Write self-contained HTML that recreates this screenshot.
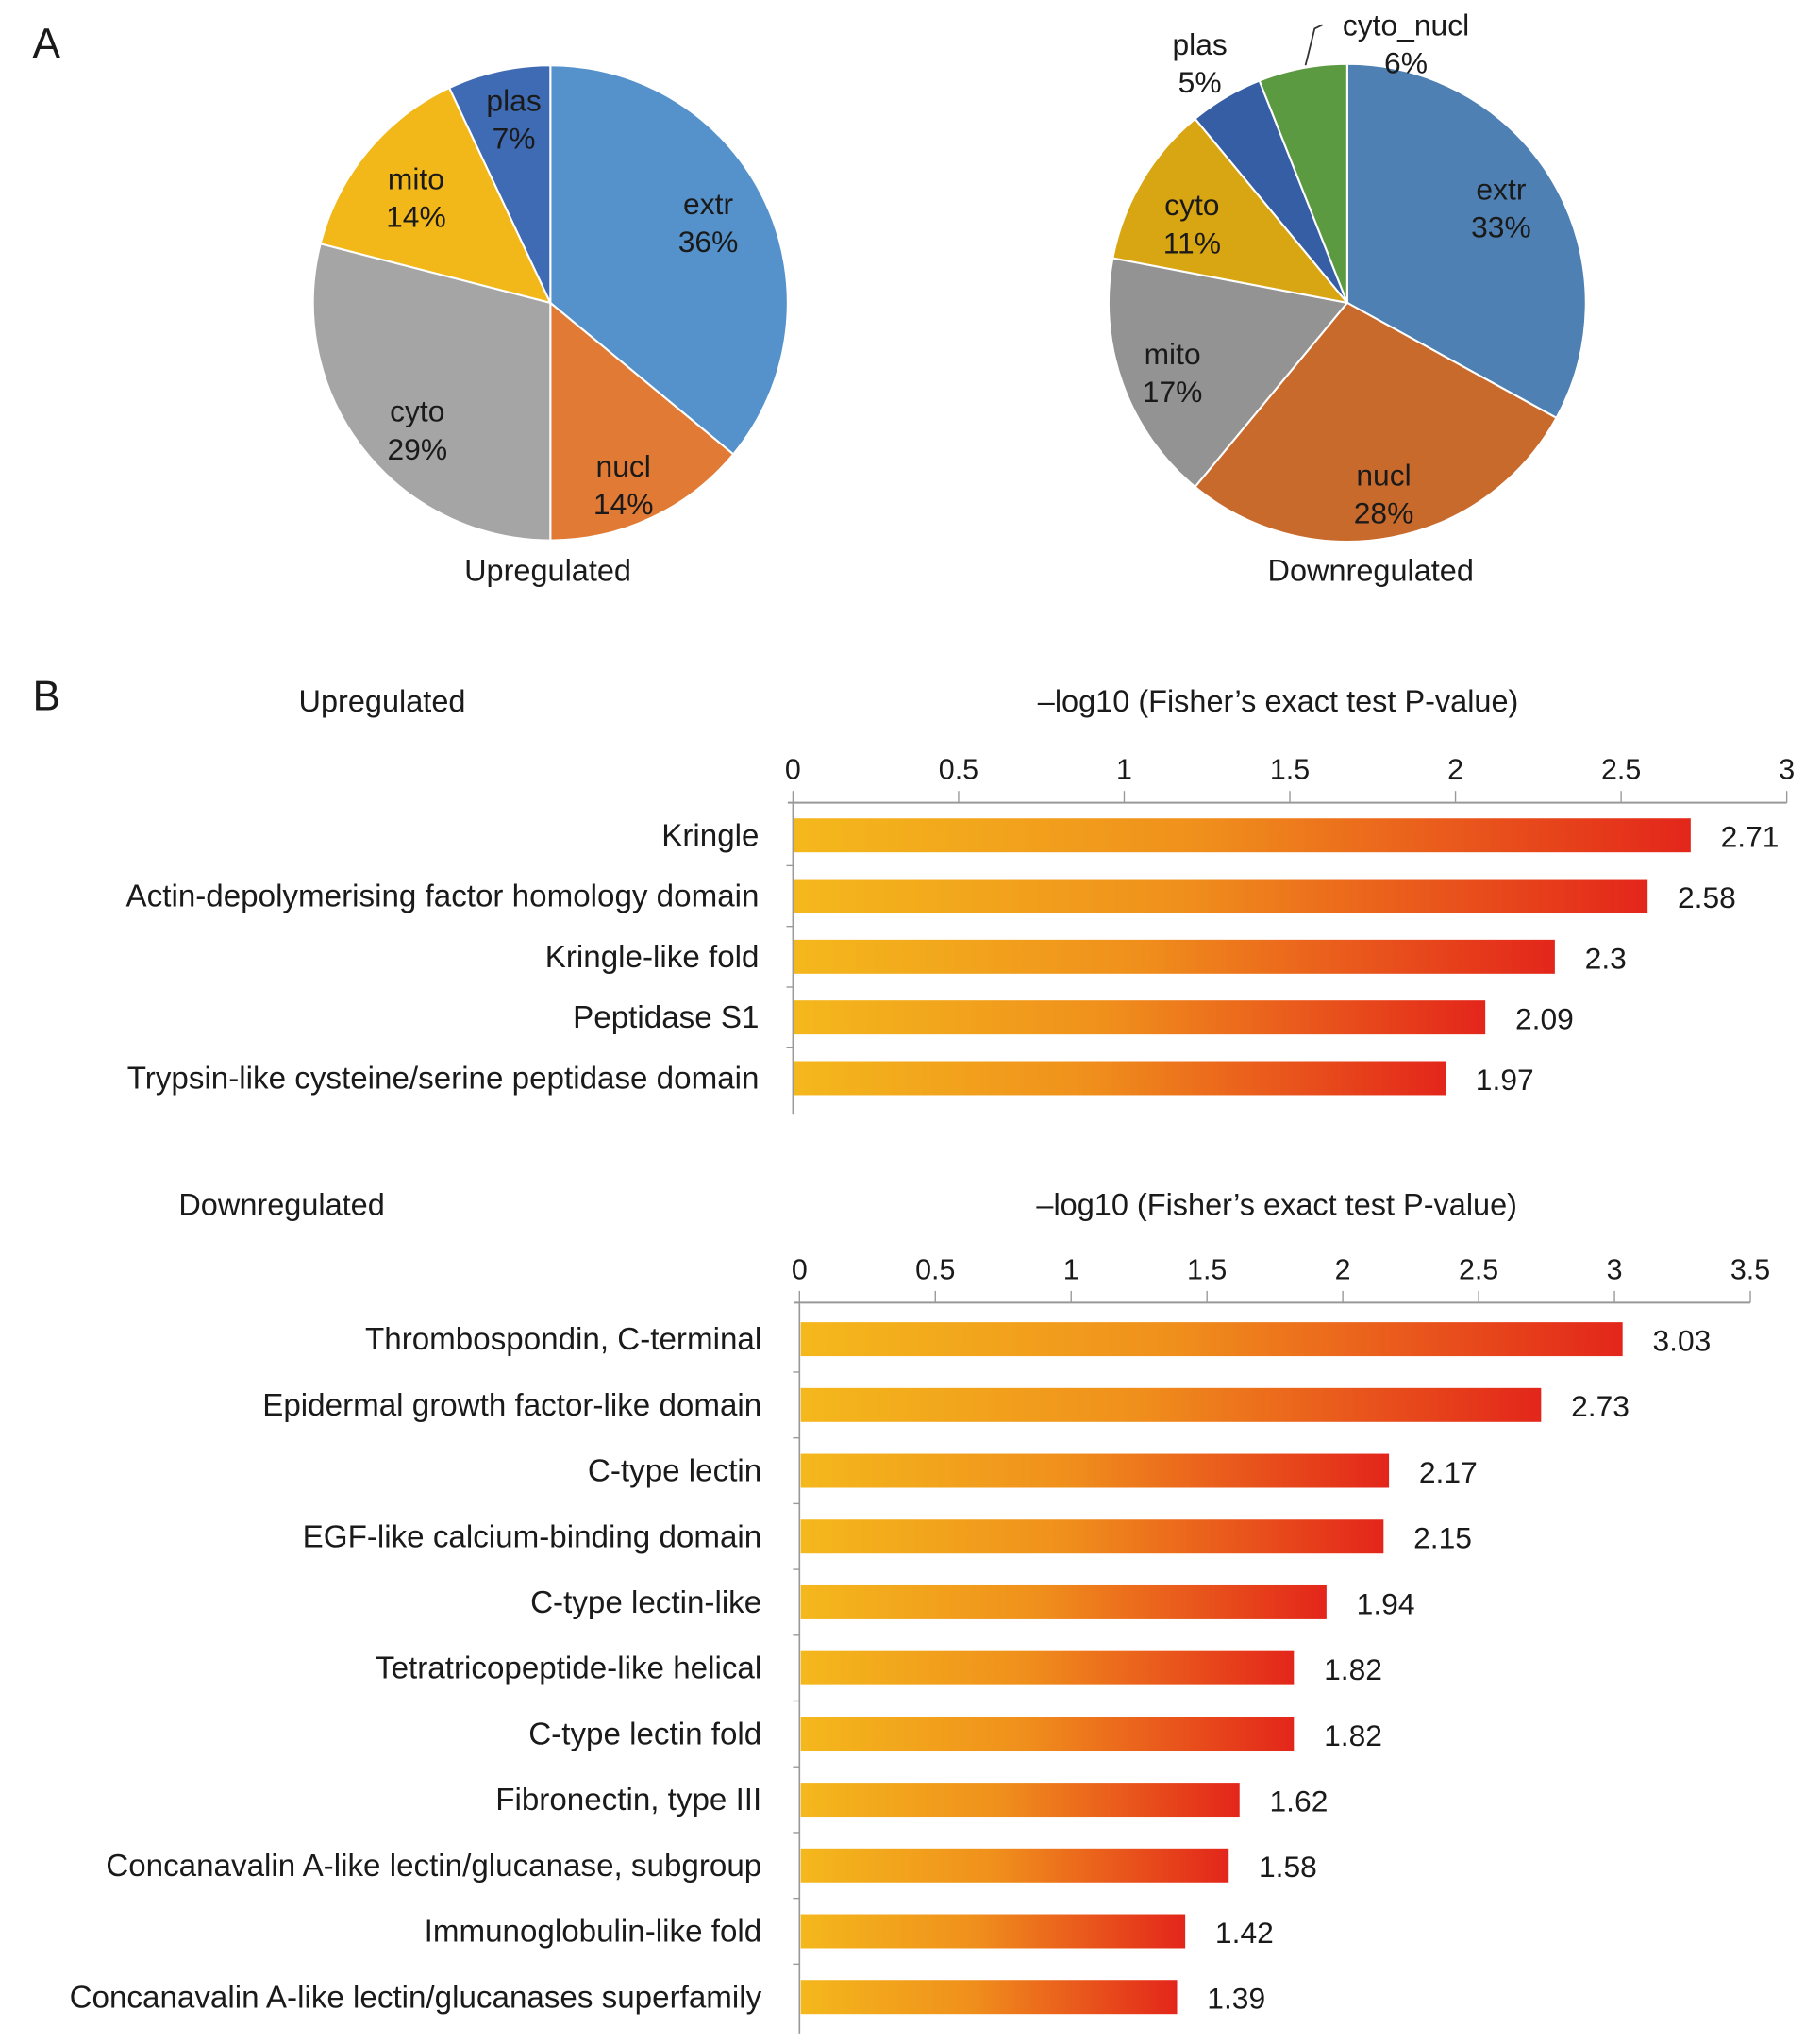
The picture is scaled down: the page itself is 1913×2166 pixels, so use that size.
<!DOCTYPE html>
<html><head><meta charset="utf-8">
<style>
html,body{margin:0;padding:0;background:#fff;}
svg{display:block;font-family:"Liberation Sans",Arial,sans-serif;}
text{fill:#1a1a1a;}
</style></head>
<body>
<svg id="fig" width="1913" height="2166" viewBox="0 0 1384 1566" preserveAspectRatio="none" xmlns="http://www.w3.org/2000/svg">
<defs>
<linearGradient id="barGrad" x1="0" y1="0" x2="1" y2="0">
<stop offset="0" stop-color="#f4b81c"/>
<stop offset="0.45" stop-color="#f0901c"/>
<stop offset="1" stop-color="#e3261b"/>
</linearGradient>
</defs>
<text x="25" y="44" font-size="32">A</text>
<text x="25" y="544" font-size="32">B</text>
<g id="pies"></g>
<g id="bars"></g>
</svg>
<script>
// Pie data
const pie1Cats = ["extr","nucl","cyto","mito","plas"];
const pie1Vals = [36,14,29,14,7];
const pie2Cats = ["extr","nucl","mito","cyto","plas","cyto_nucl"];
const pie2Vals = [33,28,17,11,5,6];
// Bar data
const upCats = ["Kringle","Actin-depolymerising factor homology domain","Kringle-like fold","Peptidase S1","Trypsin-like cysteine/serine peptidase domain"];
const upVals = [2.71,2.58,2.3,2.09,1.97];
const upTicks = ["0","0.5","1","1.5","2","2.5","3"];
const downCats = ["Thrombospondin, C-terminal","Epidermal growth factor-like domain","C-type lectin","EGF-like calcium-binding domain","C-type lectin-like","Tetratricopeptide-like helical","C-type lectin fold","Fibronectin, type III","Concanavalin A-like lectin/glucanase, subgroup","Immunoglobulin-like fold","Concanavalin A-like lectin/glucanases superfamily"];
const downVals = [3.03,2.73,2.17,2.15,1.94,1.82,1.82,1.62,1.58,1.42,1.39];
const downTicks = ["0","0.5","1","1.5","2","2.5","3","3.5"];

const NS="http://www.w3.org/2000/svg";
function mk(tag,attrs,parent){const e=document.createElementNS(NS,tag);for(const k in attrs)e.setAttribute(k,attrs[k]);parent.appendChild(e);return e;}

const pies=document.getElementById('pies');
function drawPie(cats,vals,colors,cx,cy,r,labelPos,title,titleX,prefix){
  const total=vals.reduce((a,b)=>a+b,0);
  let a0=0;
  const g=mk('g',{},pies);
  
  
  vals.forEach((v,i)=>{
    const a1=a0+v/total*2*Math.PI;
    const x0=cx+r*Math.sin(a0),y0=cy-r*Math.cos(a0);
    const x1=cx+r*Math.sin(a1),y1=cy-r*Math.cos(a1);
    const large=(a1-a0)>Math.PI?1:0;
    const p=mk('path',{d:`M${cx},${cy}L${x0},${y0}A${r},${r} 0 ${large} 1 ${x1},${y1}Z`,fill:colors[i],stroke:'#fff','stroke-width':1.5},g);
    
    
    const lp=labelPos[i];
    const t=mk('text',{x:lp[0],y:lp[1],'font-size':23,'text-anchor':'middle'},g);
    
    
    const s1=mk('tspan',{x:lp[0],dy:0},t);s1.textContent=cats[i];
    const s2=mk('tspan',{x:lp[0],dy:29},t);s2.textContent=v+'%';
    a0=a1;
  });
  const tt=mk('text',{x:titleX,y:445,'font-size':23.5,'text-anchor':'middle'},g);
  
  
  tt.textContent=title;
}
drawPie(pie1Cats,pie1Vals,["#5592cb","#e07a34","#a5a5a5","#f2b81a","#3f6bb4"],422,232,182,
  [[543,164],[478,365],[320,323],[319,145],[394,85]],"Upregulated",420,"up");
drawPie(pie2Cats,pie2Vals,["#4e80b3","#c96a2d","#939393","#d9a613","#365ea5","#5c9a42"],1033,232,183,
  [[1151,153],[1061,372],[899,279],[914,165],[920,42],[1078,27]],"Downregulated",1051,"down");
const ld=mk('path',{d:'M1001,50 L1008,22 L1014,19',fill:'none',stroke:'#333','stroke-width':1.3},pies);



const bars=document.getElementById('bars');
function drawBars(cats,vals,ticks,x0,pxPerUnit,axisY,firstY,step,bh,title,titleX,titleY,axTitleX,labOff,prefix){
  const g=mk('g',{},bars);
  
  
  const xs=v=>x0+v*pxPerUnit;
  const t1=mk('text',{x:titleX,y:titleY,'font-size':23.5},g);
  
  
  t1.textContent=title;
  const t2=mk('text',{x:axTitleX,y:titleY,'font-size':23.5,'text-anchor':'middle'},g);
  
  
  t2.textContent="\u2013log10 (Fisher\u2019s  exact test  P-value)";
  const maxV=parseFloat(ticks[ticks.length-1]);
  const ax=mk('line',{x1:x0-4,y1:axisY,x2:xs(maxV),y2:axisY,stroke:'#999','stroke-width':1.5},g);
  
  
  ticks.forEach(tk=>{
    const v=parseFloat(tk);
    const l=mk('line',{x1:xs(v),y1:axisY-9,x2:xs(v),y2:axisY,stroke:'#999','stroke-width':1},g);
    
    
    const t=mk('text',{x:xs(v),y:axisY-18,'font-size':22,'text-anchor':'middle'},g);
    
    
    t.textContent=tk;
  });
  const bottom=firstY+(cats.length-1)*step+bh/2+15;
  const yax=mk('line',{x1:x0,y1:axisY,x2:x0,y2:bottom,stroke:'#999','stroke-width':1.2},g);
  
  
  cats.forEach((c,i)=>{
    const cy=firstY+i*step;
    if(i>0){const tk=mk('line',{x1:x0-5,y1:cy-step/2,x2:x0,y2:cy-step/2,stroke:'#999','stroke-width':1},g);
      
      }
    const r=mk('rect',{x:x0+1,y:cy-bh/2,width:xs(vals[i])-x0-1,height:bh,fill:'url(#barGrad)'},g);
    
    
    const lt=mk('text',{x:x0-labOff,y:cy+8,'font-size':24,'text-anchor':'end'},g);
    
    
    lt.textContent=c;
    const vt=mk('text',{x:xs(vals[i])+23,y:cy+9,'font-size':23},g);
    
    
    vt.textContent=String(vals[i]);
  });
}
drawBars(upCats,upVals,upTicks,608,254,615,640,46.5,26,"Upregulated",229,545,980,26,"up");
drawBars(downCats,downVals,downTicks,613,208.3,998,1026,50.4,26,"Downregulated",137,931,979,29,"down");
</script>
</body></html>
